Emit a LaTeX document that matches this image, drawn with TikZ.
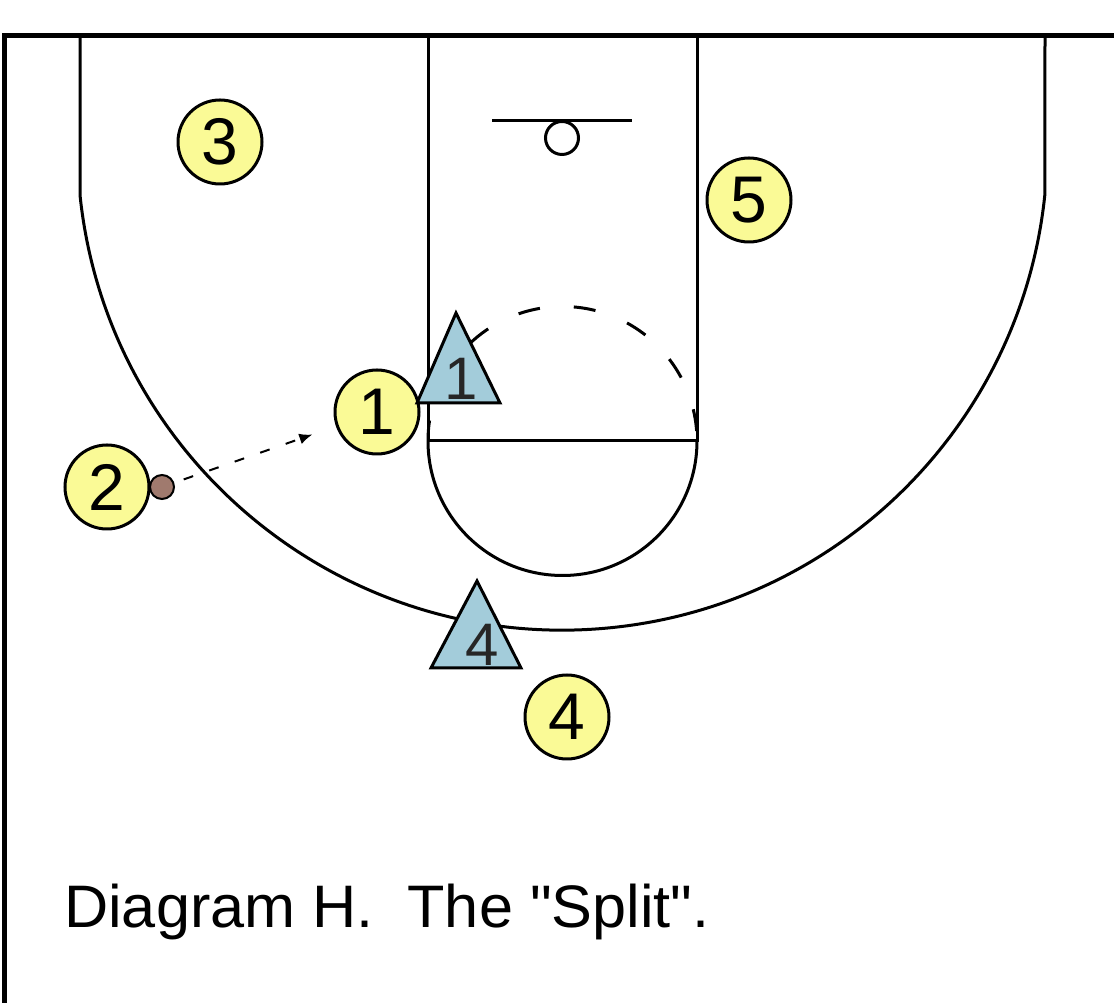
\documentclass[tikz,border=0pt]{standalone}
\usepackage{fontspec}
\setmainfont{Liberation Sans}
\newfontfamily\capfont{Liberation Sans}
\usetikzlibrary{arrows.meta}
\definecolor{pyellow}{RGB}{250,250,150}
\definecolor{dblue}{RGB}{163,204,218}
\definecolor{ballc}{RGB}{160,122,110}
\begin{document}
\begin{tikzpicture}[x=1pt,y=1pt,
  court/.style={line width=3pt},
  player/.style={circle, draw=black, line width=3pt, fill=pyellow, minimum size=84pt, inner sep=0pt, font=\fontsize{66}{66}\selectfont},
  defender/.style={draw=black, line width=3pt, fill=dblue, line join=miter},
  deflabel/.style={inner sep=0pt, text=black!85, font=\fontsize{60}{60}\selectfont},
  passline/.style={line width=2pt, dash pattern=on 10pt off 17pt, -{Latex[length=13pt,width=11pt]}}
]
\fill[white] (0,0) rectangle (1114,1003);
\useasboundingbox (0,0) rectangle (1114,1003);
% border
\draw[line width=5pt] (4,0) -- (4,967) -- (1114,967);
% three-point line
\draw[court] (80,967) -- (80,808) arc[start angle=185.9, end angle=354.1, radius=485] -- (1045,967);
% lane
\draw[court] (428,967) -- (428,562) -- (697,562) -- (697,967);
% free-throw circle
\draw[court] (428,562) arc[start angle=180, end angle=360, radius=134.5];
\draw[court, dash pattern=on 22pt off 34pt, dash phase=46pt] (697,562) arc[start angle=0, end angle=180, radius=134.5];
% basket
\draw[court] (492,882) -- (632,882);
\node[circle, draw=black, line width=3pt, fill=white, minimum size=33pt, inner sep=0pt] (rim) at (562,865) {};
% players
\node[player] (p3) at (220,861) {3};
\node[player] (p5) at (749,803) {5};
\node[player] (p1) at (377,591) {1};
\node[player] (p2) at (107,516) {2};
\node[player] (p4) at (567,286) {4};
% ball and pass
\node[circle, draw=black, line width=2pt, fill=ballc, minimum size=24pt, inner sep=0pt] (ball) at (162,516) {};
\draw[passline, shorten <=10pt, shorten >=25pt] (ball) -- (p1);
% defenders
\draw[defender] (417,600) -- (456,690) -- (500,600) -- cycle;
\node[deflabel] (d1) at (461,624) {1};
\draw[defender] (431,335) -- (477,422) -- (521,335) -- cycle;
\node[deflabel] (d4) at (482,358) {4};
% caption
\node[anchor=base west, inner sep=0pt, font=\capfont\fontsize{60}{60}\selectfont] (cap) at (64,75) {\scalebox{1.02}[1]{Diagram H.\ \ The "Split".}};
\end{tikzpicture}
\end{document}
